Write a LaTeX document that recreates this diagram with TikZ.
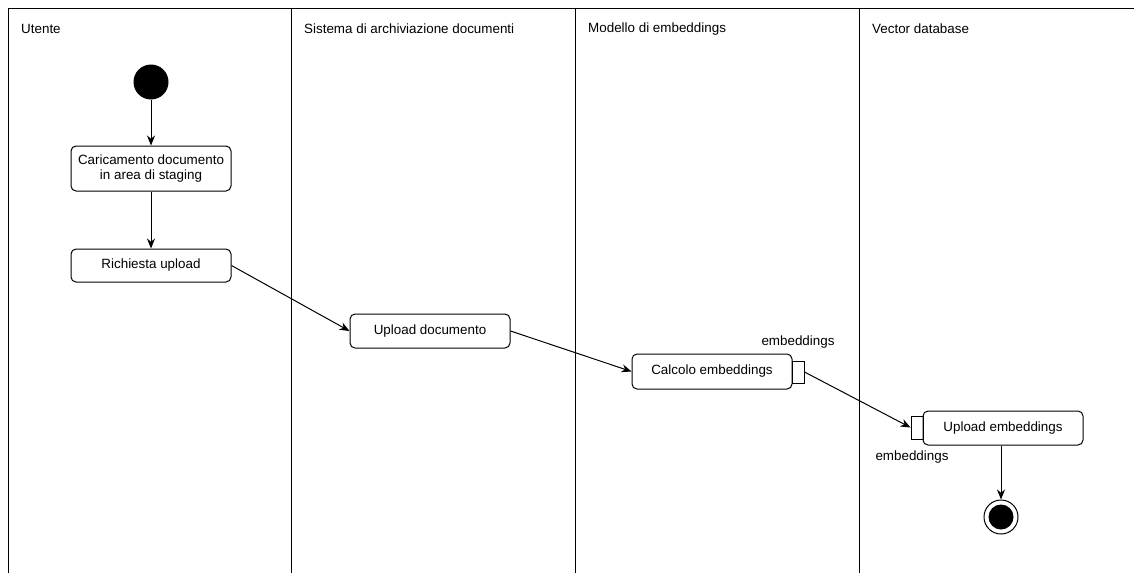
\documentclass[tikz,border=0pt]{standalone}
\usepackage{fontspec}
\setmainfont{Liberation Sans}
\usetikzlibrary{arrows.meta}
\begin{document}
\begin{tikzpicture}[x=1pt,y=-1pt,
  lane/.style={line width=1pt},
  act/.style={draw, line width=1pt, rounded corners=5pt, minimum width=160pt, align=center, inner sep=0pt, font=\fontsize{13.4}{15.5}\selectfont},
  pin/.style={draw, line width=1pt, minimum width=12pt, inner sep=0pt},
  lbl/.style={font=\fontsize{13.4}{15.5}\selectfont, inner sep=0pt},
  flow/.style={line width=1pt, -{Stealth[length=10pt,width=8pt]}}]
\useasboundingbox (0,0) rectangle (1134,573);
% swimlanes
\draw[lane] (1134,8) -- (8,8) -- (8,573);
\draw[lane] (291,8) -- (291,573);
\draw[lane] (575,8) -- (575,573);
\draw[lane] (859,8) -- (859,573);
\node[lbl, anchor=west] (t1) at (21,29) {Utente};
\node[lbl, anchor=west] (t2) at (304,29) {Sistema di archiviazione documenti};
\node[lbl, anchor=west] (t3) at (588,29) {Modello di embeddings};
\node[lbl, anchor=west] (t4) at (872,29) {Vector database};
% nodes
\node[circle, fill=black, minimum size=35pt, inner sep=0pt] (start) at (151,82) {};
\node[act, minimum height=45pt] (b1) at (151,168.5) {Caricamento documento\\in area di staging};
\node[act, minimum height=33pt] (b2) at (151,265.5) {Richiesta upload};
\node[act, minimum height=34pt] (b3) at (430,331) {Upload documento};
\node[act, minimum height=35pt] (b4) at (712,371.5) {Calcolo embeddings};
\node[pin, minimum height=22pt] (p4) at (798,372) {};
\node[act, minimum height=34pt] (b5) at (1003,428) {Upload embeddings};
\node[pin, minimum height=23pt] (p5) at (917,427.5) {};
\node[lbl] (l4) at (798,342) {embeddings};
\node[lbl] (l5) at (912,457) {embeddings};
\node[circle, draw, line width=1pt, minimum size=34pt, inner sep=0pt] (end) at (1001,517) {};
\node[circle, fill=black, minimum size=25pt, inner sep=0pt] (endin) at (end.center) {};
% flows
\draw[flow] (start) -- (b1);
\draw[flow] (b1) -- (b2);
\draw[flow] (b2.east) -- (b3.west);
\draw[flow] (b3.east) -- (b4.west);
\draw[flow] (p4.east) -- (p5.west);
\draw[flow] (b5.south -| end.north) -- (end.north);
\end{tikzpicture}
\end{document}
